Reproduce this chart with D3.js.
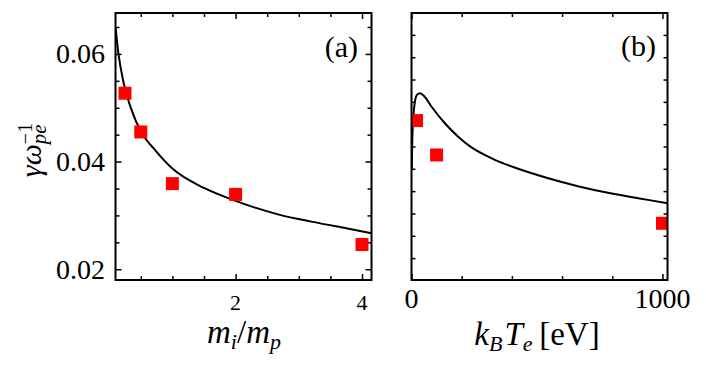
<!DOCTYPE html>
<html>
<head>
<meta charset="utf-8">
<script src="https://cdn.jsdelivr.net/npm/d3@7"></script>
<style>
body { margin: 0; background: #fff; }
</style>
</head>
<body>
<svg width="706" height="368"></svg>
<script>
// (a) groeirate tegen massaverhouding
var massRatio = [0.25, 0.5, 1, 2, 4];
var massGamma = [0.0527, 0.0455, 0.0359, 0.0339, 0.0246];
var massCurveX = [0.1, 0.146, 0.22, 0.335, 0.52, 0.7, 1.0, 1.5, 2.0, 2.7, 3.22, 3.75, 4.15];
var massCurveY = [0.0650, 0.0601, 0.0551, 0.0502, 0.0452, 0.0425, 0.0387, 0.0351, 0.0327, 0.0301, 0.0288, 0.0276, 0.0267];

// (b) groeirate tegen temperatuur
var tempEv = [20, 100, 1000];
var tempGamma = [0.0508, 0.0431, 0.0278];
var tempCurveX = [1, 3, 6, 10, 15, 22, 33, 50, 80, 133, 186, 239, 292, 332, 405, 538, 671, 803, 936, 1020];
var tempCurveY = [0.0397, 0.0460, 0.0505, 0.0535, 0.0555, 0.0566, 0.0569, 0.0563, 0.0539, 0.0502, 0.0472, 0.0448, 0.0431, 0.0420, 0.0404, 0.0380, 0.0360, 0.0344, 0.0331, 0.0323];

// tick labels
var aYMajor = [0.02, 0.04, 0.06];
var aYMinor = [0.025, 0.03, 0.035, 0.045, 0.05, 0.055, 0.065];
var aXMajor = [2, 4];
var aXMinor = [0.5, 1, 1.5, 2.5, 3, 3.5];
var bXMajor = [0, 1000];
var bXMinor = [200, 400, 600, 800];
var bYMinor = [0.02, 0.025, 0.03, 0.035, 0.04, 0.045, 0.05, 0.055, 0.06, 0.065, 0.07];

var serif = "'Liberation Serif', 'DejaVu Serif', 'Times New Roman', serif";

var svg = d3.select("svg"),
    top0 = 13,
    h = 267,
    w = 256;

function zip(xs, ys) {
    return xs.map(function (d, i) { return [d, ys[i]]; });
}

// tekent kader, ticks aan alle vier kanten en de data
function panel(id, left, x, y, ticks, pts, curve) {
    var g = svg.append("g").attr("transform", "translate(" + left + "," + top0 + ")");

    g.append("clipPath").attr("id", "clip" + id)
        .append("rect").attr("width", w).attr("height", h);

    function ax(gen, vals, size, tx, ty) {
        var a = g.append("g")
            .attr("transform", "translate(" + tx + "," + ty + ")")
            .call(gen.tickValues(vals).tickSizeInner(-size).tickSizeOuter(0).tickFormat(""));
        a.select(".domain").remove();
        a.selectAll("line").attr("stroke-width", 1.5);
    }

    ax(d3.axisBottom(x), ticks.xMajor, 6, 0, h);
    ax(d3.axisBottom(x), ticks.xMinor, 4, 0, h);
    ax(d3.axisTop(x), ticks.xMajor, 6, 0, 0);
    ax(d3.axisTop(x), ticks.xMinor, 4, 0, 0);
    ax(d3.axisLeft(y), ticks.yMajor, 6, 0, 0);
    ax(d3.axisLeft(y), ticks.yMinor, 4, 0, 0);
    ax(d3.axisRight(y), ticks.yMajor, 6, w, 0);
    ax(d3.axisRight(y), ticks.yMinor, 4, w, 0);

    var line = d3.line()
        .x(function (d) { return x(d[0]); })
        .y(function (d) { return y(d[1]); })
        .curve(d3.curveMonotoneX);

    var inner = g.append("g").attr("clip-path", "url(#clip" + id + ")");
    inner.append("path")
        .datum(curve)
        .attr("fill", "none")
        .attr("stroke", "#000")
        .attr("stroke-width", 2)
        .attr("d", line);

    inner.selectAll(".sq")
        .data(pts)
        .enter().append("rect")
        .attr("class", "sq")
        .attr("x", function (d) { return x(d[0]) - 6.5; })
        .attr("y", function (d) { return y(d[1]) - 6.5; })
        .attr("width", 13)
        .attr("height", 13)
        .attr("fill", "#ff0000");

    g.append("rect")
        .attr("width", w).attr("height", h)
        .attr("fill", "none")
        .attr("stroke", "#000")
        .attr("stroke-width", 2);

    return g;
}

// paneel (a)
var xA = d3.scaleLinear().domain([0.1, 4.15]).range([0, w]),
    yA = d3.scaleLinear().domain([0.018, 0.0676]).range([h, 0]);

var gA = panel("a", 115.5, xA, yA,
    { xMajor: aXMajor, xMinor: aXMinor, yMajor: aYMajor, yMinor: aYMinor },
    zip(massRatio, massGamma), zip(massCurveX, massCurveY));

gA.selectAll(".ylab")
    .data(aYMajor)
    .enter().append("text")
    .attr("x", -10.5)
    .attr("y", function (d) { return yA(d) + 9.5; })
    .attr("text-anchor", "end")
    .attr("font-family", serif)
    .attr("font-size", 28)
    .text(function (d) { return d.toFixed(2); });

gA.selectAll(".xlab")
    .data(aXMajor)
    .enter().append("text")
    .attr("x", function (d) { return xA(d); })
    .attr("y", h + 30)
    .attr("text-anchor", "middle")
    .attr("font-family", serif)
    .attr("font-size", 22)
    .text(function (d) { return d; });

gA.append("text")
    .attr("x", 242.5).attr("y", 44)
    .attr("text-anchor", "end")
    .attr("font-family", serif)
    .attr("font-size", 30)
    .text("(a)");

// paneel (b)
var xB = d3.scaleLinear().domain([0, 1020]).range([0, w]),
    yB = d3.scaleLinear().domain([0.0151, 0.0749]).range([h, 0]);

var gB = panel("b", 411.5, xB, yB,
    { xMajor: bXMajor, xMinor: bXMinor, yMajor: [], yMinor: bYMinor },
    zip(tempEv, tempGamma), zip(tempCurveX, tempCurveY));

gB.selectAll(".xlab")
    .data(bXMajor)
    .enter().append("text")
    .attr("x", function (d) { return xB(d); })
    .attr("y", h + 28)
    .attr("text-anchor", "middle")
    .attr("font-family", serif)
    .attr("font-size", 28)
    .text(function (d) { return d; });

gB.append("text")
    .attr("x", 244.5).attr("y", 43)
    .attr("text-anchor", "end")
    .attr("font-family", serif)
    .attr("font-size", 30)
    .text("(b)");

// as-titels
var xt = svg.append("text")
    .attr("x", 244).attr("y", 343)
    .attr("text-anchor", "middle")
    .attr("font-family", serif)
    .attr("font-size", 33)
    .attr("font-style", "italic");
xt.append("tspan").text("m");
xt.append("tspan").attr("font-size", 22).attr("dy", 6).text("i");
xt.append("tspan").attr("dy", -6).attr("font-style", "normal").text("/");
xt.append("tspan").text("m");
xt.append("tspan").attr("font-size", 22).attr("dy", 6).text("p");

var xt2 = svg.append("text")
    .attr("x", 537).attr("y", 345)
    .attr("text-anchor", "middle")
    .attr("font-family", serif)
    .attr("font-size", 33)
    .attr("font-style", "italic");
xt2.append("tspan").text("k");
xt2.append("tspan").attr("font-size", 22).attr("dy", 6).text("B");
xt2.append("tspan").attr("dy", -6).attr("dx", 2).text("T");
xt2.append("tspan").attr("font-size", 22).attr("dy", 6).text("e");
xt2.append("tspan").attr("dy", -6).attr("font-style", "normal").text("\u2009[eV]");

var yt = svg.append("text")
    .attr("transform", "translate(41,150) rotate(-90)")
    .attr("text-anchor", "middle")
    .attr("font-family", serif)
    .attr("font-size", 30)
    .attr("font-style", "italic");
yt.append("tspan").text("γω");
var sub = yt.append("tspan").attr("font-size", 21).attr("dy", 5).text("pe");
var subW = sub.node().getComputedTextLength();
yt.append("tspan").attr("font-size", 20).attr("font-style", "normal")
    .attr("dx", -subW).attr("dy", -14).text("\u22121");
</script>
</body>
</html>
